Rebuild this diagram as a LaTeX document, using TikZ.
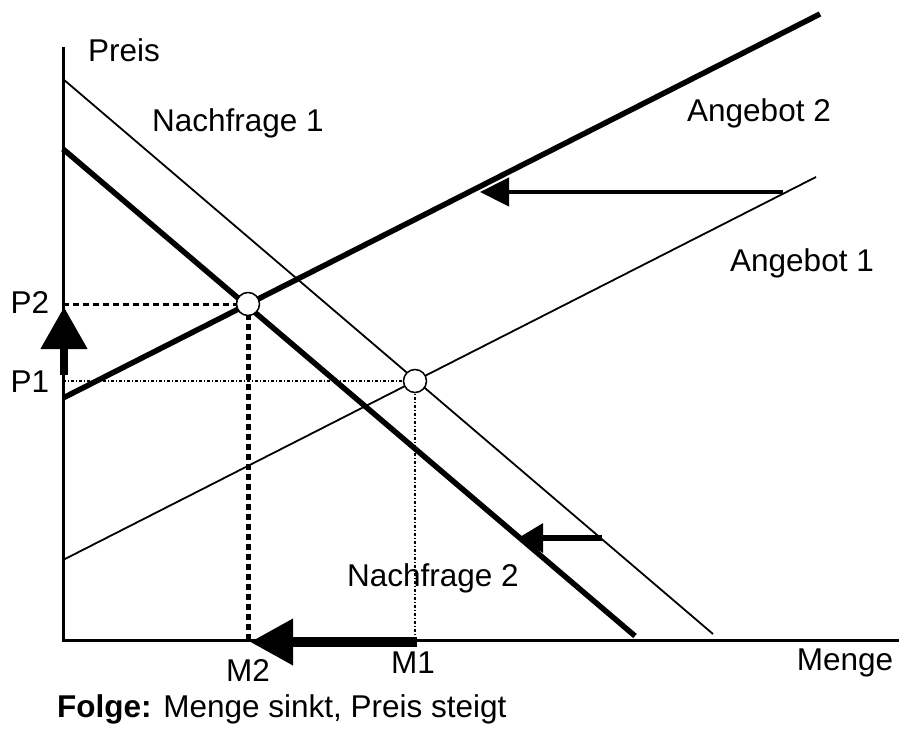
\documentclass[tikz,border=0pt]{standalone}
\usepackage{fontspec}
\setmainfont{Liberation Sans}
\usepackage{tikz}
\usetikzlibrary{arrows.meta}

\begin{document}
\begin{tikzpicture}[
    x=1pt, y=-1pt,
    every node/.style={font=\fontsize{31.5}{38}\selectfont},
    thin curve/.style={line width=1.8pt},
    thick curve/.style={line width=5.5pt},
    point/.style={circle, draw, fill=white, line width=1.5pt, minimum size=23pt, inner sep=0pt}
]
\useasboundingbox (0,0) rectangle (905,733);

% Axes
\coordinate (origin) at (63,640);
\coordinate (ytop) at (63,47);
\coordinate (xend) at (899,640);
\draw[line width=3pt] (ytop) -- (origin) -- (xend);
\node (preis) at (124,50) {Preis};
\node (menge) at (845,663) {Menge};

% Curves
\coordinate (n1a) at (63,79);
\coordinate (n1b) at (713,634);
\coordinate (n2a) at (63,149);
\coordinate (n2b) at (635,636);
\coordinate (a1a) at (63,560);
\coordinate (a1b) at (816,177);
\coordinate (a2a) at (63,398);
\coordinate (a2b) at (820,14);
\draw[thin curve] (n1a) -- (n1b);
\draw[thick curve] (n2a) -- (n2b);
\draw[thin curve] (a1a) -- (a1b);
\draw[thick curve] (a2a) -- (a2b);
\node (nachfrage1) at (238,123) {Nachfrage 1};
\node (nachfrage2) at (433,578) {Nachfrage 2};
\node (angebot1) at (802,263) {Angebot 1};
\node (angebot2) at (759,113) {Angebot 2};

% Equilibria
\coordinate (E1) at (415,381);
\coordinate (E2) at (248,304);
\draw[line width=1.2pt, dash pattern=on 3pt off 2pt on 1pt off 2pt] (origin |- E1) -- (E1) -- (E1 |- origin);
\draw[line width=3pt, dash pattern=on 6pt off 4pt] (origin |- E2) -- (E2);
\draw[line width=5pt, dash pattern=on 6pt off 4pt] (E2) -- (E2 |- origin);
\node[point] (e1) at (E1) {};
\node[point] (e2) at (E2) {};
\node (p1) at (30,382) {P1};
\node (p2) at (30,303) {P2};
\node (m1) at (413,663) {M1};
\node (m2) at (248,670) {M2};

% Shifts
\coordinate (shiftA) at (783,192);
\coordinate (shiftAend) at (480,192);
\coordinate (shiftN) at (602,538);
\coordinate (shiftNend) at (518,538);
\draw[-{Triangle[length=29pt,width=28pt]}, line width=4.5pt] (shiftA) -- (shiftAend);
\draw[-{Triangle[length=25pt,width=28pt]}, line width=6pt] (shiftN) -- (shiftNend);
\draw[-{Triangle[length=42pt,width=45pt]}, line width=8pt] (64,375) -- (64,307);
\draw[-{Triangle[length=43pt,width=44pt]}, line width=10pt] (417,642) -- (250,642);

% Result
\node[anchor=west, inner sep=0pt] (folge) at (57,709) {\textbf{Folge:} Menge sinkt, Preis steigt};

\end{tikzpicture}
\end{document}
